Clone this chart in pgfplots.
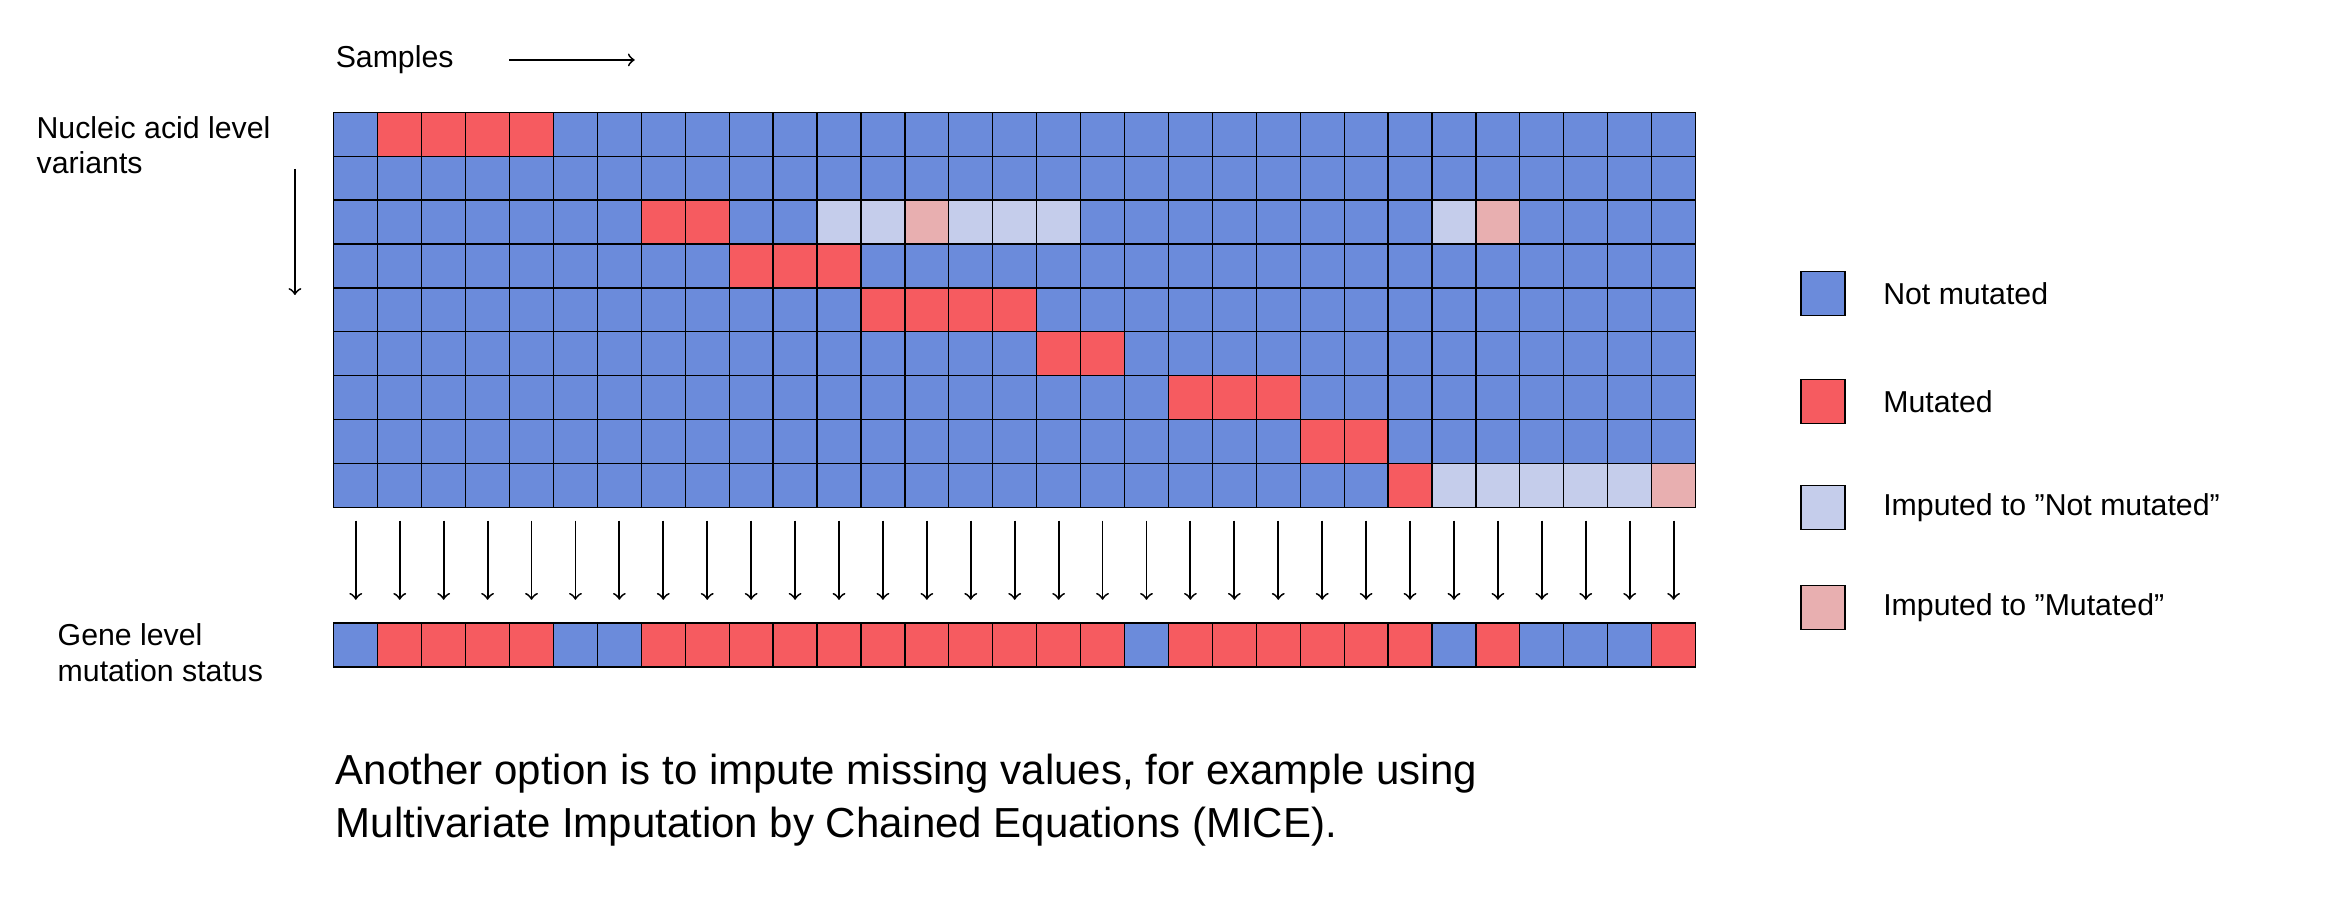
\documentclass[border=0pt]{standalone}
\usepackage{pgfplots}
\pgfplotsset{compat=1.18}
\usepackage{fontspec}
\setmainfont{Liberation Sans}
\definecolor{cB}{HTML}{6B8BDB}
\definecolor{cR}{HTML}{F65B60}
\definecolor{cL}{HTML}{C5CDEB}
\definecolor{cP}{HTML}{E8AFB0}
\begin{document}
\fontsize{9.8pt}{11.5pt}\selectfont
\begin{tikzpicture}
\begin{axis}[hide axis, scale only axis, clip=false, x=0.5cm, y=0.5cm,
  xmin=-7.6, xmax=45.83, ymin=-17.88, ymax=2.555]
\path (axis cs:-7.6,-17.88) rectangle (axis cs:45.83,2.555);
\def\cellstyle{scatter, only marks, mark=square*, mark size=7.113pt, point meta=explicit symbolic,
  scatter/classes={a={mark=square*,draw=black,line width=0.4pt,fill=cB},b={mark=square*,draw=black,line width=0.4pt,fill=cR},c={mark=square*,draw=black,line width=0.4pt,fill=cL},d={mark=square*,draw=black,line width=0.4pt,fill=cP}}}
\expandafter\addplot\expandafter[\cellstyle] table[meta=c, row sep=\\] {
x y c\\
0.5 -0.5 a\\ 1.5 -0.5 b\\ 2.5 -0.5 b\\ 3.5 -0.5 b\\ 4.5 -0.5 b\\ 5.5 -0.5 a\\ 6.5 -0.5 a\\ 7.5 -0.5 a\\ 8.5 -0.5 a\\ 9.5 -0.5 a\\ 10.5 -0.5 a\\ 11.5 -0.5 a\\ 12.5 -0.5 a\\ 13.5 -0.5 a\\ 14.5 -0.5 a\\ 15.5 -0.5 a\\ 16.5 -0.5 a\\ 17.5 -0.5 a\\ 18.5 -0.5 a\\ 19.5 -0.5 a\\ 20.5 -0.5 a\\ 21.5 -0.5 a\\ 22.5 -0.5 a\\ 23.5 -0.5 a\\ 24.5 -0.5 a\\ 25.5 -0.5 a\\ 26.5 -0.5 a\\ 27.5 -0.5 a\\ 28.5 -0.5 a\\ 29.5 -0.5 a\\ 30.5 -0.5 a\\
0.5 -1.5 a\\ 1.5 -1.5 a\\ 2.5 -1.5 a\\ 3.5 -1.5 a\\ 4.5 -1.5 a\\ 5.5 -1.5 a\\ 6.5 -1.5 a\\ 7.5 -1.5 a\\ 8.5 -1.5 a\\ 9.5 -1.5 a\\ 10.5 -1.5 a\\ 11.5 -1.5 a\\ 12.5 -1.5 a\\ 13.5 -1.5 a\\ 14.5 -1.5 a\\ 15.5 -1.5 a\\ 16.5 -1.5 a\\ 17.5 -1.5 a\\ 18.5 -1.5 a\\ 19.5 -1.5 a\\ 20.5 -1.5 a\\ 21.5 -1.5 a\\ 22.5 -1.5 a\\ 23.5 -1.5 a\\ 24.5 -1.5 a\\ 25.5 -1.5 a\\ 26.5 -1.5 a\\ 27.5 -1.5 a\\ 28.5 -1.5 a\\ 29.5 -1.5 a\\ 30.5 -1.5 a\\
0.5 -2.5 a\\ 1.5 -2.5 a\\ 2.5 -2.5 a\\ 3.5 -2.5 a\\ 4.5 -2.5 a\\ 5.5 -2.5 a\\ 6.5 -2.5 a\\ 7.5 -2.5 b\\ 8.5 -2.5 b\\ 9.5 -2.5 a\\ 10.5 -2.5 a\\ 11.5 -2.5 c\\ 12.5 -2.5 c\\ 13.5 -2.5 d\\ 14.5 -2.5 c\\ 15.5 -2.5 c\\ 16.5 -2.5 c\\ 17.5 -2.5 a\\ 18.5 -2.5 a\\ 19.5 -2.5 a\\ 20.5 -2.5 a\\ 21.5 -2.5 a\\ 22.5 -2.5 a\\ 23.5 -2.5 a\\ 24.5 -2.5 a\\ 25.5 -2.5 c\\ 26.5 -2.5 d\\ 27.5 -2.5 a\\ 28.5 -2.5 a\\ 29.5 -2.5 a\\ 30.5 -2.5 a\\
0.5 -3.5 a\\ 1.5 -3.5 a\\ 2.5 -3.5 a\\ 3.5 -3.5 a\\ 4.5 -3.5 a\\ 5.5 -3.5 a\\ 6.5 -3.5 a\\ 7.5 -3.5 a\\ 8.5 -3.5 a\\ 9.5 -3.5 b\\ 10.5 -3.5 b\\ 11.5 -3.5 b\\ 12.5 -3.5 a\\ 13.5 -3.5 a\\ 14.5 -3.5 a\\ 15.5 -3.5 a\\ 16.5 -3.5 a\\ 17.5 -3.5 a\\ 18.5 -3.5 a\\ 19.5 -3.5 a\\ 20.5 -3.5 a\\ 21.5 -3.5 a\\ 22.5 -3.5 a\\ 23.5 -3.5 a\\ 24.5 -3.5 a\\ 25.5 -3.5 a\\ 26.5 -3.5 a\\ 27.5 -3.5 a\\ 28.5 -3.5 a\\ 29.5 -3.5 a\\ 30.5 -3.5 a\\
0.5 -4.5 a\\ 1.5 -4.5 a\\ 2.5 -4.5 a\\ 3.5 -4.5 a\\ 4.5 -4.5 a\\ 5.5 -4.5 a\\ 6.5 -4.5 a\\ 7.5 -4.5 a\\ 8.5 -4.5 a\\ 9.5 -4.5 a\\ 10.5 -4.5 a\\ 11.5 -4.5 a\\ 12.5 -4.5 b\\ 13.5 -4.5 b\\ 14.5 -4.5 b\\ 15.5 -4.5 b\\ 16.5 -4.5 a\\ 17.5 -4.5 a\\ 18.5 -4.5 a\\ 19.5 -4.5 a\\ 20.5 -4.5 a\\ 21.5 -4.5 a\\ 22.5 -4.5 a\\ 23.5 -4.5 a\\ 24.5 -4.5 a\\ 25.5 -4.5 a\\ 26.5 -4.5 a\\ 27.5 -4.5 a\\ 28.5 -4.5 a\\ 29.5 -4.5 a\\ 30.5 -4.5 a\\
0.5 -5.5 a\\ 1.5 -5.5 a\\ 2.5 -5.5 a\\ 3.5 -5.5 a\\ 4.5 -5.5 a\\ 5.5 -5.5 a\\ 6.5 -5.5 a\\ 7.5 -5.5 a\\ 8.5 -5.5 a\\ 9.5 -5.5 a\\ 10.5 -5.5 a\\ 11.5 -5.5 a\\ 12.5 -5.5 a\\ 13.5 -5.5 a\\ 14.5 -5.5 a\\ 15.5 -5.5 a\\ 16.5 -5.5 b\\ 17.5 -5.5 b\\ 18.5 -5.5 a\\ 19.5 -5.5 a\\ 20.5 -5.5 a\\ 21.5 -5.5 a\\ 22.5 -5.5 a\\ 23.5 -5.5 a\\ 24.5 -5.5 a\\ 25.5 -5.5 a\\ 26.5 -5.5 a\\ 27.5 -5.5 a\\ 28.5 -5.5 a\\ 29.5 -5.5 a\\ 30.5 -5.5 a\\
0.5 -6.5 a\\ 1.5 -6.5 a\\ 2.5 -6.5 a\\ 3.5 -6.5 a\\ 4.5 -6.5 a\\ 5.5 -6.5 a\\ 6.5 -6.5 a\\ 7.5 -6.5 a\\ 8.5 -6.5 a\\ 9.5 -6.5 a\\ 10.5 -6.5 a\\ 11.5 -6.5 a\\ 12.5 -6.5 a\\ 13.5 -6.5 a\\ 14.5 -6.5 a\\ 15.5 -6.5 a\\ 16.5 -6.5 a\\ 17.5 -6.5 a\\ 18.5 -6.5 a\\ 19.5 -6.5 b\\ 20.5 -6.5 b\\ 21.5 -6.5 b\\ 22.5 -6.5 a\\ 23.5 -6.5 a\\ 24.5 -6.5 a\\ 25.5 -6.5 a\\ 26.5 -6.5 a\\ 27.5 -6.5 a\\ 28.5 -6.5 a\\ 29.5 -6.5 a\\ 30.5 -6.5 a\\
0.5 -7.5 a\\ 1.5 -7.5 a\\ 2.5 -7.5 a\\ 3.5 -7.5 a\\ 4.5 -7.5 a\\ 5.5 -7.5 a\\ 6.5 -7.5 a\\ 7.5 -7.5 a\\ 8.5 -7.5 a\\ 9.5 -7.5 a\\ 10.5 -7.5 a\\ 11.5 -7.5 a\\ 12.5 -7.5 a\\ 13.5 -7.5 a\\ 14.5 -7.5 a\\ 15.5 -7.5 a\\ 16.5 -7.5 a\\ 17.5 -7.5 a\\ 18.5 -7.5 a\\ 19.5 -7.5 a\\ 20.5 -7.5 a\\ 21.5 -7.5 a\\ 22.5 -7.5 b\\ 23.5 -7.5 b\\ 24.5 -7.5 a\\ 25.5 -7.5 a\\ 26.5 -7.5 a\\ 27.5 -7.5 a\\ 28.5 -7.5 a\\ 29.5 -7.5 a\\ 30.5 -7.5 a\\
0.5 -8.5 a\\ 1.5 -8.5 a\\ 2.5 -8.5 a\\ 3.5 -8.5 a\\ 4.5 -8.5 a\\ 5.5 -8.5 a\\ 6.5 -8.5 a\\ 7.5 -8.5 a\\ 8.5 -8.5 a\\ 9.5 -8.5 a\\ 10.5 -8.5 a\\ 11.5 -8.5 a\\ 12.5 -8.5 a\\ 13.5 -8.5 a\\ 14.5 -8.5 a\\ 15.5 -8.5 a\\ 16.5 -8.5 a\\ 17.5 -8.5 a\\ 18.5 -8.5 a\\ 19.5 -8.5 a\\ 20.5 -8.5 a\\ 21.5 -8.5 a\\ 22.5 -8.5 a\\ 23.5 -8.5 a\\ 24.5 -8.5 b\\ 25.5 -8.5 c\\ 26.5 -8.5 c\\ 27.5 -8.5 c\\ 28.5 -8.5 c\\ 29.5 -8.5 c\\ 30.5 -8.5 d\\
0.5 -12.13 a\\ 1.5 -12.13 b\\ 2.5 -12.13 b\\ 3.5 -12.13 b\\ 4.5 -12.13 b\\ 5.5 -12.13 a\\ 6.5 -12.13 a\\ 7.5 -12.13 b\\ 8.5 -12.13 b\\ 9.5 -12.13 b\\ 10.5 -12.13 b\\ 11.5 -12.13 b\\ 12.5 -12.13 b\\ 13.5 -12.13 b\\ 14.5 -12.13 b\\ 15.5 -12.13 b\\ 16.5 -12.13 b\\ 17.5 -12.13 b\\ 18.5 -12.13 a\\ 19.5 -12.13 b\\ 20.5 -12.13 b\\ 21.5 -12.13 b\\ 22.5 -12.13 b\\ 23.5 -12.13 b\\ 24.5 -12.13 b\\ 25.5 -12.13 a\\ 26.5 -12.13 b\\ 27.5 -12.13 a\\ 28.5 -12.13 a\\ 29.5 -12.13 a\\ 30.5 -12.13 b\\
33.9 -4.12 a\\ 33.9 -6.58 b\\ 33.9 -9.0 c\\ 33.9 -11.28 d\\
};
\pgfplotsinvokeforeach{0,...,30}{
  \draw[->, line width=0.6pt] (axis cs:#1+0.5,-9.3) -- (axis cs:#1+0.5,-11.1);
}
\draw[->, line width=0.6pt] (axis cs:3.99,1.19) -- (axis cs:6.85,1.19);
\draw[->, line width=0.6pt] (axis cs:-0.886,-1.29) -- (axis cs:-0.886,-4.16);
\node[anchor=west, inner sep=0pt] at (axis cs:0.03,1.19) {Samples};
\node[anchor=west, inner sep=0pt, align=left] at (axis cs:-6.78,-0.75) {Nucleic acid level\\variants};
\node[anchor=west, inner sep=0pt, align=left] at (axis cs:-6.3,-12.3) {Gene level\\mutation status};
\node[anchor=west, inner sep=0pt] at (axis cs:35.26,-4.12) {Not mutated};
\node[anchor=west, inner sep=0pt] at (axis cs:35.26,-6.58) {Mutated};
\node[anchor=west, inner sep=0pt] at (axis cs:35.26,-9.0) {Imputed to \symbol{34}Not mutated\symbol{34}};
\node[anchor=west, inner sep=0pt] at (axis cs:35.26,-11.28) {Imputed to \symbol{34}Mutated\symbol{34}};
\node[anchor=west, inner sep=0pt, align=left, font=\fontsize{13.6pt}{17pt}\selectfont] at (axis cs:0.03,-15.66) {Another option is to impute missing values, for example using\\Multivariate Imputation by Chained Equations (MICE).};
\end{axis}
\end{tikzpicture}
\end{document}
